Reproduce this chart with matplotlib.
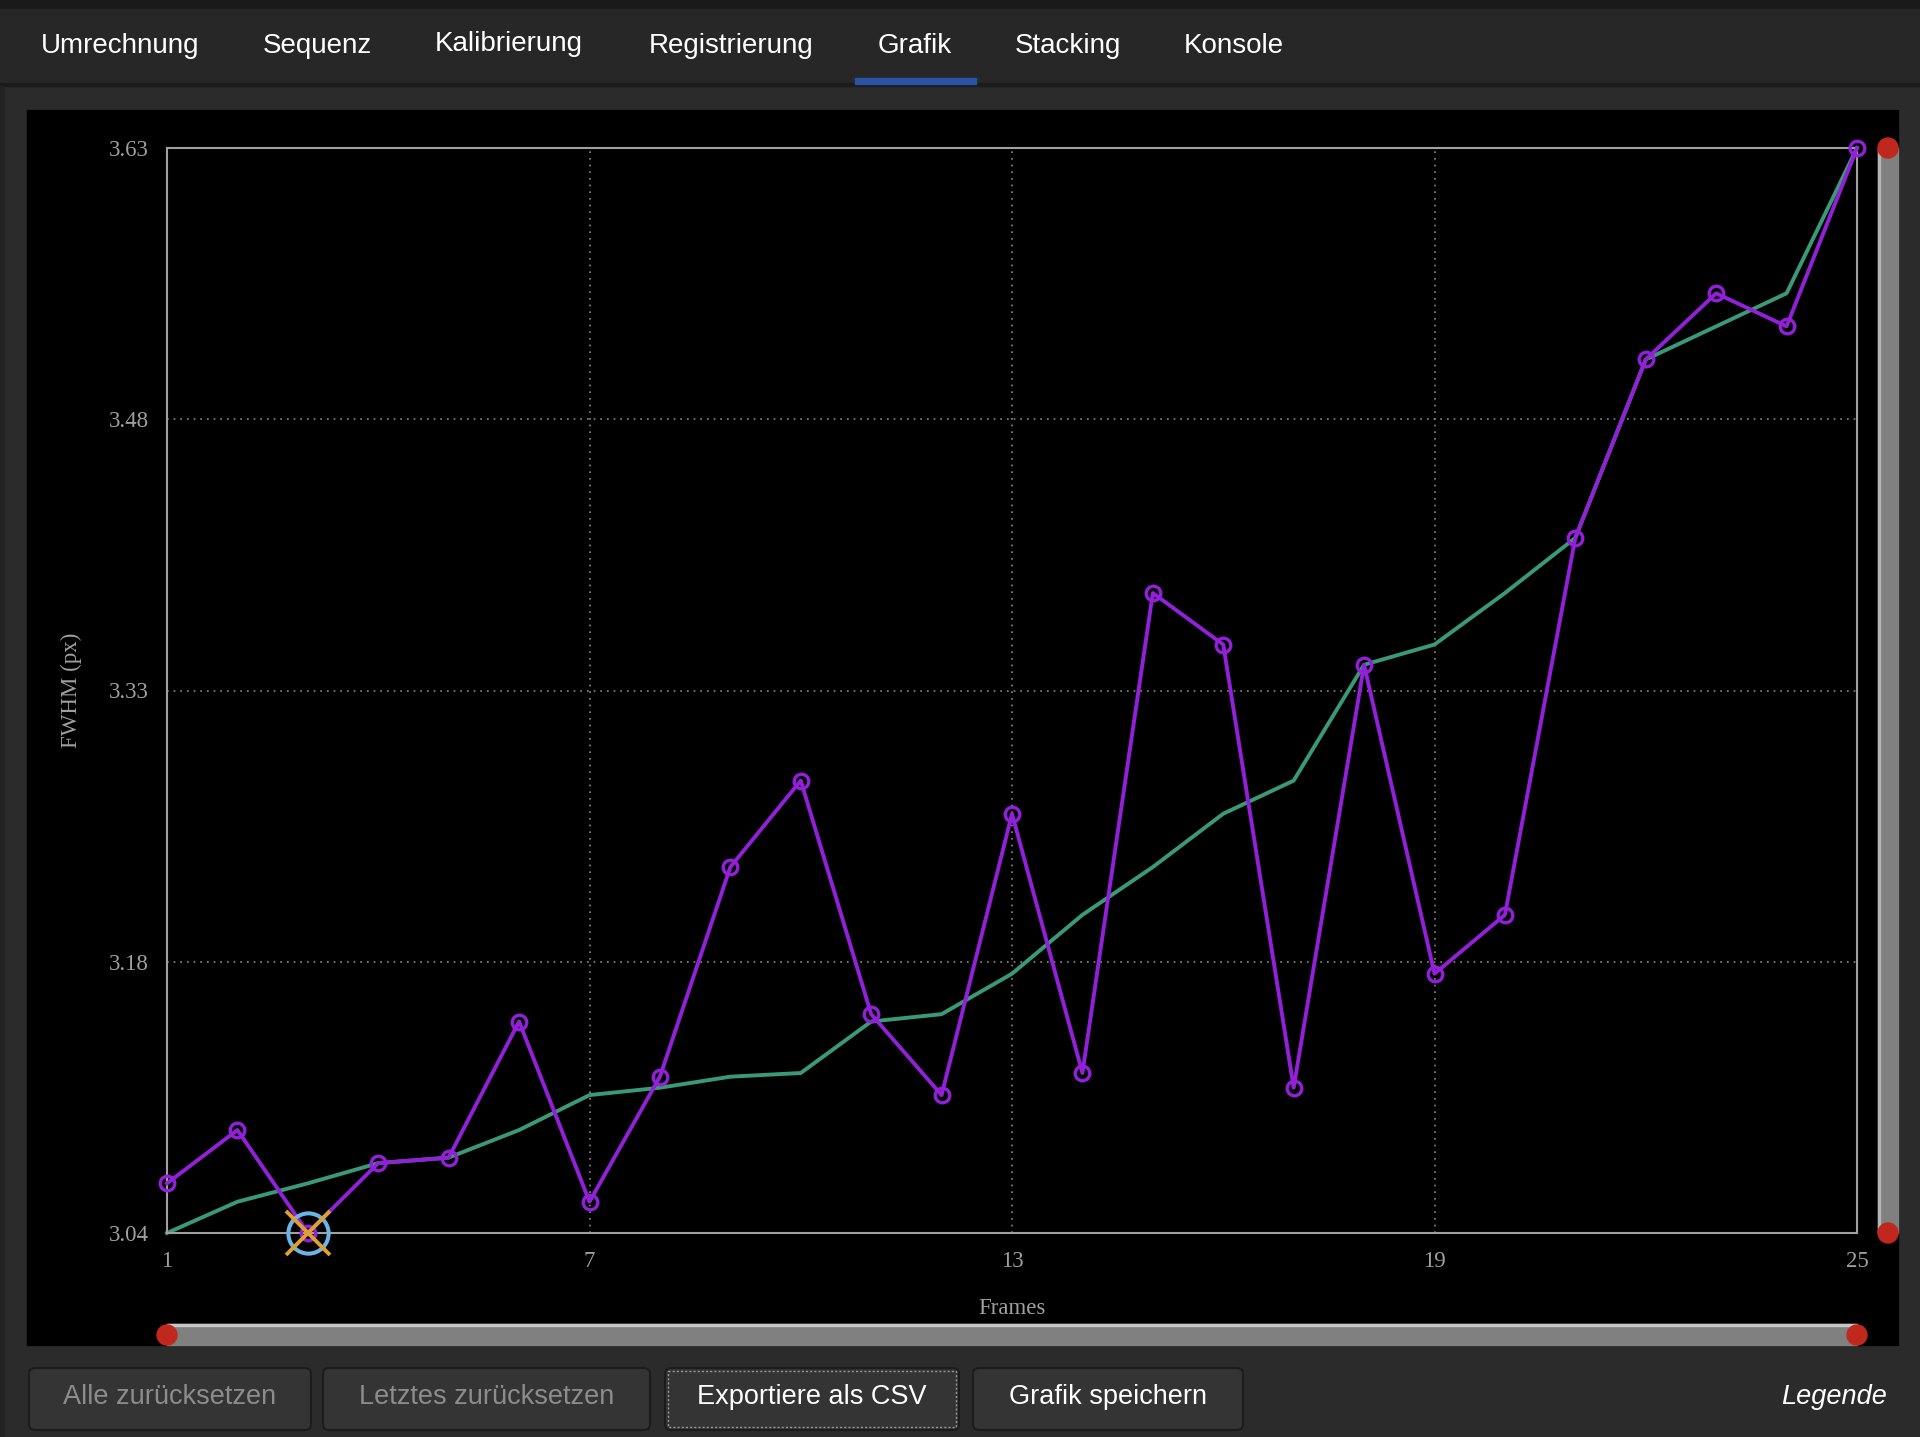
import numpy as np
import matplotlib
matplotlib.use("Agg")
import matplotlib.pyplot as plt
from matplotlib.patches import Rectangle, Circle, FancyBboxPatch

# data
frames = list(range(1, 26))
fwhm = [3.067, 3.096, 3.040, 3.078, 3.081, 3.155, 3.057, 3.125, 3.239, 3.286,
        3.159, 3.115, 3.268, 3.127, 3.388, 3.360, 3.119, 3.349, 3.181, 3.213,
        3.418, 3.515, 3.551, 3.533, 3.630]
fwhm_sorted = [3.040, 3.057, 3.067, 3.078, 3.081, 3.096, 3.115, 3.119, 3.125, 3.127,
               3.155, 3.159, 3.181, 3.213, 3.239, 3.268, 3.286, 3.349, 3.360, 3.388,
               3.418, 3.515, 3.533, 3.551, 3.630]
selected_frame = 3
x_ticks = [1, 7, 13, 19, 25]
y_min, y_max = 3.04, 3.63
y_tick_labels = ['3.04', '3.18', '3.33', '3.48', '3.63']

tabs = ['Umrechnung', 'Sequenz', 'Kalibrierung', 'Registrierung', 'Grafik', 'Stacking', 'Konsole']
tab_x = [120, 317, 509, 731, 915, 1068, 1234]
buttons = ['Alle zurücksetzen', 'Letztes zurücksetzen', 'Exportiere als CSV', 'Grafik speichern']
button_x = [(29, 311), (323, 650), (665, 959), (973, 1243)]
button_enabled = [False, False, True, True]

W, H = 1920, 1437
fig = plt.figure(figsize=(W / 100, H / 100), dpi=100, facecolor='#2b2b2b')

# window chrome drawn in pixel coordinates
ui = fig.add_axes([0, 0, 1, 1], zorder=0)
ui.set_xlim(0, W)
ui.set_ylim(H, 0)
ui.axis('off')

ui.add_patch(Rectangle((0, 0), W, 9, color='#1a1a1a'))
ui.add_patch(Rectangle((0, 9), W, 74, color='#272727'))
ui.add_patch(Rectangle((0, 83), W, 3, color='#1b1b1b'))
ui.add_patch(Rectangle((0, 86), 4, H - 86, color='#222222'))
for name, x in zip(tabs, tab_x):
    ui.text(x, 46 if name != 'Kalibrierung' else 44, name, color='white', fontsize=20,
            family='Liberation Sans', ha='center', va='center')
ui.add_patch(Rectangle((855, 78), 121, 6, color='#2a54a3'))

# black drawing area
ui.add_patch(Rectangle((27, 110), 1871, 1235, color='black'))

# sliders
ui.add_patch(Rectangle((1878, 148), 20, 1085, color='#808080'))
ui.add_patch(Rectangle((1878, 148), 2, 1085, color='#b5b5b5'))
ui.add_patch(Rectangle((167, 1324), 1690, 21, color='#808080'))
ui.add_patch(Rectangle((167, 1324), 1690, 2, color='#c8c8c8'))
for cx, cy in [(1888, 148), (1888, 1233), (167, 1335), (1857, 1335)]:
    ui.add_patch(Circle((cx, cy), 10, color='#c0281e', zorder=3))

# buttons
for label, (x0, x1), enabled in zip(buttons, button_x, button_enabled):
    ui.add_patch(FancyBboxPatch((x0, 1368), x1 - x0, 62, boxstyle='round,pad=0,rounding_size=6',
                                facecolor='#343434', edgecolor='#1c1c1c', linewidth=1.5))
    ui.text((x0 + x1) / 2, 1397, label, color='white' if enabled else '#8c8c8c', fontsize=19.5,
            family='Liberation Sans', ha='center', va='center')
ui.add_patch(Rectangle((668, 1371), 288, 56, fill=False, edgecolor='#9a9a9a',
                       linestyle=(0, (1.5, 1.5)), linewidth=1))
ui.text(1887, 1397, 'Legende', color='white', fontsize=19.5, style='italic',
        family='Liberation Sans', ha='right', va='center')

# the plot
ax = fig.add_axes([167 / W, 1 - 1233 / H, 1690 / W, 1085 / H], zorder=1)
ax.set_facecolor('black')
ax.plot(frames, fwhm_sorted, color='#3a9a78', linewidth=2.8, zorder=2, clip_on=False)
ax.plot(frames, fwhm, color='#9120d8', linewidth=2.8, marker='o', markersize=10.5,
        markerfacecolor='none', markeredgecolor='#9120d8', markeredgewidth=2.4,
        zorder=3, clip_on=False)
sel = frames.index(selected_frame)
ax.plot(frames[sel], fwhm[sel], marker='o', markersize=29, markerfacecolor='none',
        markeredgecolor='#6ab4e6', markeredgewidth=2.9, zorder=4, clip_on=False)
ax.plot(frames[sel], fwhm[sel], marker='x', markersize=31, markeredgecolor='#e0a030',
        markeredgewidth=2.8, zorder=5, clip_on=False)

ax.set_xlim(1, 25)
ax.set_ylim(y_min, y_max)
ax.set_xticks(x_ticks)
ax.set_yticks(np.linspace(y_min, y_max, 5))
ax.set_yticklabels(y_tick_labels)
ax.tick_params(length=0, colors='#a0a0a0', labelsize=16.5, pad=13)
for lbl in ax.get_xticklabels() + ax.get_yticklabels():
    lbl.set_family('Liberation Serif')
ax.grid(True, color='#8a8a8a', linestyle=(0, (1, 3)), linewidth=1.2)
for sp in ax.spines.values():
    sp.set_color('#a0a0a0')
    sp.set_linewidth(1.5)

ax.set_xlabel('Frames', family='Liberation Serif', fontsize=16.5, color='#a0a0a0')
ax.set_ylabel('FWHM (px)', family='Liberation Serif', fontsize=16.5, color='#a0a0a0')
ax.xaxis.label.set_va('center')
ax.yaxis.label.set_va('center')
ax.xaxis.set_label_coords(0.5, -75 / 1085)
ax.yaxis.set_label_coords(-96 / 1690, 0.5)

fig.savefig('out.png', dpi=100, facecolor=fig.get_facecolor())
